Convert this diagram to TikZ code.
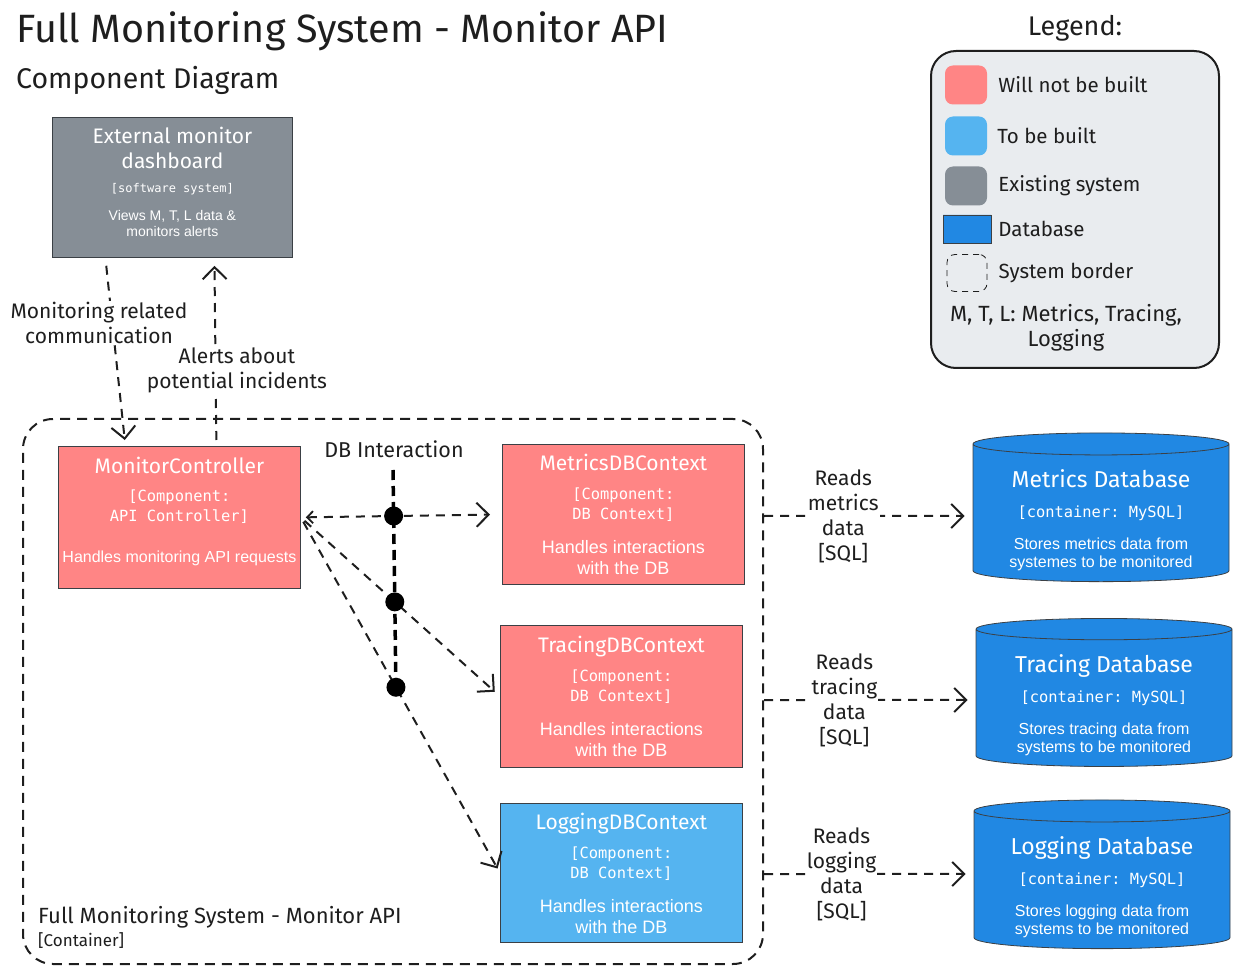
\documentclass[tikz,border=0pt]{standalone}
\usepackage{fontspec}
\setmainfont{Fira Sans}
\setsansfont{Liberation Sans}
\setmonofont{DejaVu Sans Mono}
\usetikzlibrary{arrows.meta,shapes.geometric,positioning}
\definecolor{notbuilt}{HTML}{FF8585}
\definecolor{tobebuilt}{HTML}{55B4F0}
\definecolor{existing}{HTML}{868E96}
\definecolor{dbblue}{HTML}{2188E3}
\definecolor{legendbg}{HTML}{E9ECEF}
\definecolor{ink}{HTML}{1E1E1E}
\definecolor{boxline}{HTML}{3B4045}
\newcommand{\hand}[1]{{\rmfamily\fontsize{21}{23}\selectfont #1}}
\newcommand{\tech}[1]{{\ttfamily\fontsize{15.4}{19}\selectfont #1}}
\newcommand{\dbname}[1]{{\rmfamily\fontsize{23}{25}\selectfont\rule{0pt}{32pt}#1}}

\begin{document}
\begin{tikzpicture}[x=1pt, y=-1pt,
  every node/.style={text=ink},
  compbox/.style={draw=boxline, thick, align=center, text=white, inner sep=0pt,
    font=\sffamily\fontsize{18}{21}\selectfont,
    minimum width=242pt, minimum height=140pt, anchor=north west},
  dbbox/.style={cylinder, shape border rotate=90, aspect=0.12, draw=boxline, thick,
    fill=dbblue, text=white, align=center, inner sep=0pt,
    font=\sffamily\fontsize{16}{18}\selectfont,
    minimum width=256pt, minimum height=147pt},
  flow/.style={ink, line width=2pt, dash pattern=on 9pt off 7pt,
    -{Straight Barb[length=12pt,width=24pt,line width=2pt]}},
  note/.style={fill=white, align=center, inner sep=1pt, font=\fontsize{21}{25}\selectfont},
  swatch/.style={rounded corners=8pt, minimum width=42pt, minimum height=39pt, inner sep=0pt},
  legtext/.style={anchor=west, inner sep=0pt, font=\fontsize{20.5}{24}\selectfont},
  dot/.style={circle, fill=black, inner sep=0pt, minimum size=19pt}
]
\useasboundingbox (0,0) rectangle (1243,973);

% Titles
\node[anchor=base west, inner sep=0pt, font=\fontsize{39.5}{42}\selectfont] (title) at (16,43) {Full Monitoring System - Monitor API};
\node[anchor=base west, inner sep=0pt, font=\fontsize{28.5}{32}\selectfont] (subtitle) at (16,89) {Component Diagram};

% Legend
\node[anchor=base, font=\fontsize{27}{30}\selectfont] (legtitle) at (1075,36) {Legend:};
\node[draw=ink, line width=2pt, rounded corners=25pt, fill=legendbg, minimum width=288pt,
  minimum height=317pt, anchor=north west] (legend) at (930,50) {};
\node[swatch, fill=notbuilt] (swnot) at (966,85) {};
\node[legtext, right=11pt of swnot] (lgnot) {Will not be built};
\node[swatch, fill=tobebuilt] (swto) at (966,136) {};
\node[legtext, right=10pt of swto] (lgto) {To be built};
\node[swatch, fill=existing] (swex) at (966,186) {};
\node[legtext, right=11pt of swex] (lgex) {Existing system};
\node[cylinder, shape border rotate=90, aspect=0.2, draw=boxline, fill=dbblue,
  minimum width=48pt, minimum height=28pt, inner sep=0pt] (swdb) at (967,229) {};
\node[legtext, right=7pt of swdb] (lgdb) {Database};
\node[swatch, draw=ink, thick, dash pattern=on 6pt off 5pt, minimum width=40pt, minimum height=37pt] (swbd) at (967,273) {};
\node[legtext, right=11pt of swbd] (lgbd) {System border};
\node[align=center, font=\fontsize{22}{25}\selectfont] (lgabbr) at (1066,328) {M, T, L: Metrics, Tracing,\\Logging};

% External system
\node[compbox, fill=existing, minimum width=240pt, font=\sffamily\fontsize{14}{16}\selectfont] (ext) at (52,117)
  {\hand{External monitor}\\[8pt]\hand{dashboard}\\[8pt]{\ttfamily\fontsize{12}{16}\selectfont [software system]}\\[12pt]
   Views M, T, L data \&\\monitors alerts\rule[-12pt]{0pt}{12pt}};

% Container border
\node[draw=ink, line width=2pt, dash pattern=on 10pt off 7pt, rounded corners=30pt,
  minimum width=740pt, minimum height=545pt, anchor=north west] (apibound) at (22,418) {};
\node[anchor=base west, inner sep=0pt, font=\fontsize{22}{25}\selectfont] (apiname) at (38,923) {Full Monitoring System - Monitor API};
\node[anchor=base west, inner sep=0pt, font=\fontsize{17}{20}\selectfont] (apitype) at (38,946) {[Container]};

% Components
\node[compbox, fill=notbuilt, minimum height=142pt] (mctl) at (58,446)
  {\hand{MonitorController}\\[7pt]\tech{[Component:}\\[-1pt]\tech{API Controller]}\\[20pt]
   {\fontsize{16}{21}\selectfont Handles monitoring API requests\rule[-16pt]{0pt}{16pt}}};
\node[compbox, fill=notbuilt] (metctx) at (502,444)
  {\hand{MetricsDBContext}\\[8pt]\tech{[Component:}\\[-1pt]\tech{DB Context]}\\[13pt]
   Handles interactions\\with the DB};
\node[compbox, fill=notbuilt, minimum height=142pt] (trcctx) at (500,625)
  {\hand{TracingDBContext}\\[8pt]\tech{[Component:}\\[-1pt]\tech{DB Context]}\\[13pt]
   Handles interactions\\with the DB};
\node[compbox, fill=tobebuilt, minimum height=139pt] (logctx) at (500,803)
  {\hand{LoggingDBContext}\\[8pt]\tech{[Component:}\\[-1pt]\tech{DB Context]}\\[13pt]
   Handles interactions\\with the DB};

% Databases
\node[dbbox] (metricsdb) at (1101,513)
  {\dbname{Metrics Database}\\[12pt]\tech{[container: MySQL]}\\[14pt]
   Stores metrics data from\\systemes to be monitored};
\node[dbbox, minimum height=148pt] (tracingdb) at (1104,698)
  {\dbname{Tracing Database}\\[12pt]\tech{[container: MySQL]}\\[14pt]
   Stores tracing data from\\systems to be monitored};
\node[dbbox, minimum height=148pt] (loggingdb) at (1102,880)
  {\dbname{Logging Database}\\[12pt]\tech{[container: MySQL]}\\[14pt]
   Stores logging data from\\systems to be monitored};

% Dashboard <-> controller
\draw[flow, shorten <=8pt, shorten >=6pt] ([xshift=-67pt]ext.south) -- ([xshift=-54pt]mctl.north);
\draw[flow, shorten <=6pt, shorten >=8pt] ([xshift=37pt]mctl.north) -- ([xshift=42pt]ext.south);
\node[note] (lbmon) at (99,323) {Monitoring related\\communication};
\node[note] (lbalert) at (237,370) {Alerts about\\potential incidents};

% DB interaction
\node[font=\fontsize{21.5}{24}\selectfont] (dbinter) at (394,449) {DB Interaction};
\coordinate (dbtop) at (393,470);
\coordinate (dbbot) at (396,692);
\draw[line width=3.5pt, dash pattern=on 10pt off 6pt] (dbtop) -- (dbbot);

\draw[flow, {Straight Barb[length=6pt,width=12pt,line width=1.8pt]}-{Straight Barb[length=12pt,width=24pt,line width=2pt]},
  shorten <=5pt, shorten >=12pt] (mctl.east) -- (metctx.west);
\draw[flow, shorten <=5pt, shorten >=7pt] (mctl.east) -- (trcctx.west);
\draw[flow, shorten <=5pt, shorten >=5pt] (mctl.east) -- (logctx.west);
\node[dot] (dotmet) at (intersection of mctl.east--metctx.west and dbtop--dbbot) {};
\node[dot] (dottrc) at (intersection of mctl.east--trcctx.west and dbtop--dbbot) {};
\node[dot] (dotlog) at (intersection of mctl.east--logctx.west and dbtop--dbbot) {};

% Reads from the databases
\draw[flow, shorten >=8pt] (apibound.east |- metricsdb.center) ++(0,3) -- ([yshift=-3pt]metricsdb.west)
  node[note, pos=0.38] (rdmet) {Reads\\metrics\\data\\{[SQL]}};
\draw[flow, shorten >=8pt] (apibound.east |- tracingdb.center) ++(0,2) -- ([yshift=-2pt]tracingdb.west)
  node[note, pos=0.38] (rdtrc) {Reads\\tracing\\data\\{[SQL]}};
\draw[flow, shorten >=8pt] (apibound.east |- loggingdb.center) ++(0,-6) -- ([yshift=6pt]loggingdb.west)
  node[note, pos=0.37] (rdlog) {Reads\\logging\\data\\{[SQL]}};
\end{tikzpicture}
\end{document}
